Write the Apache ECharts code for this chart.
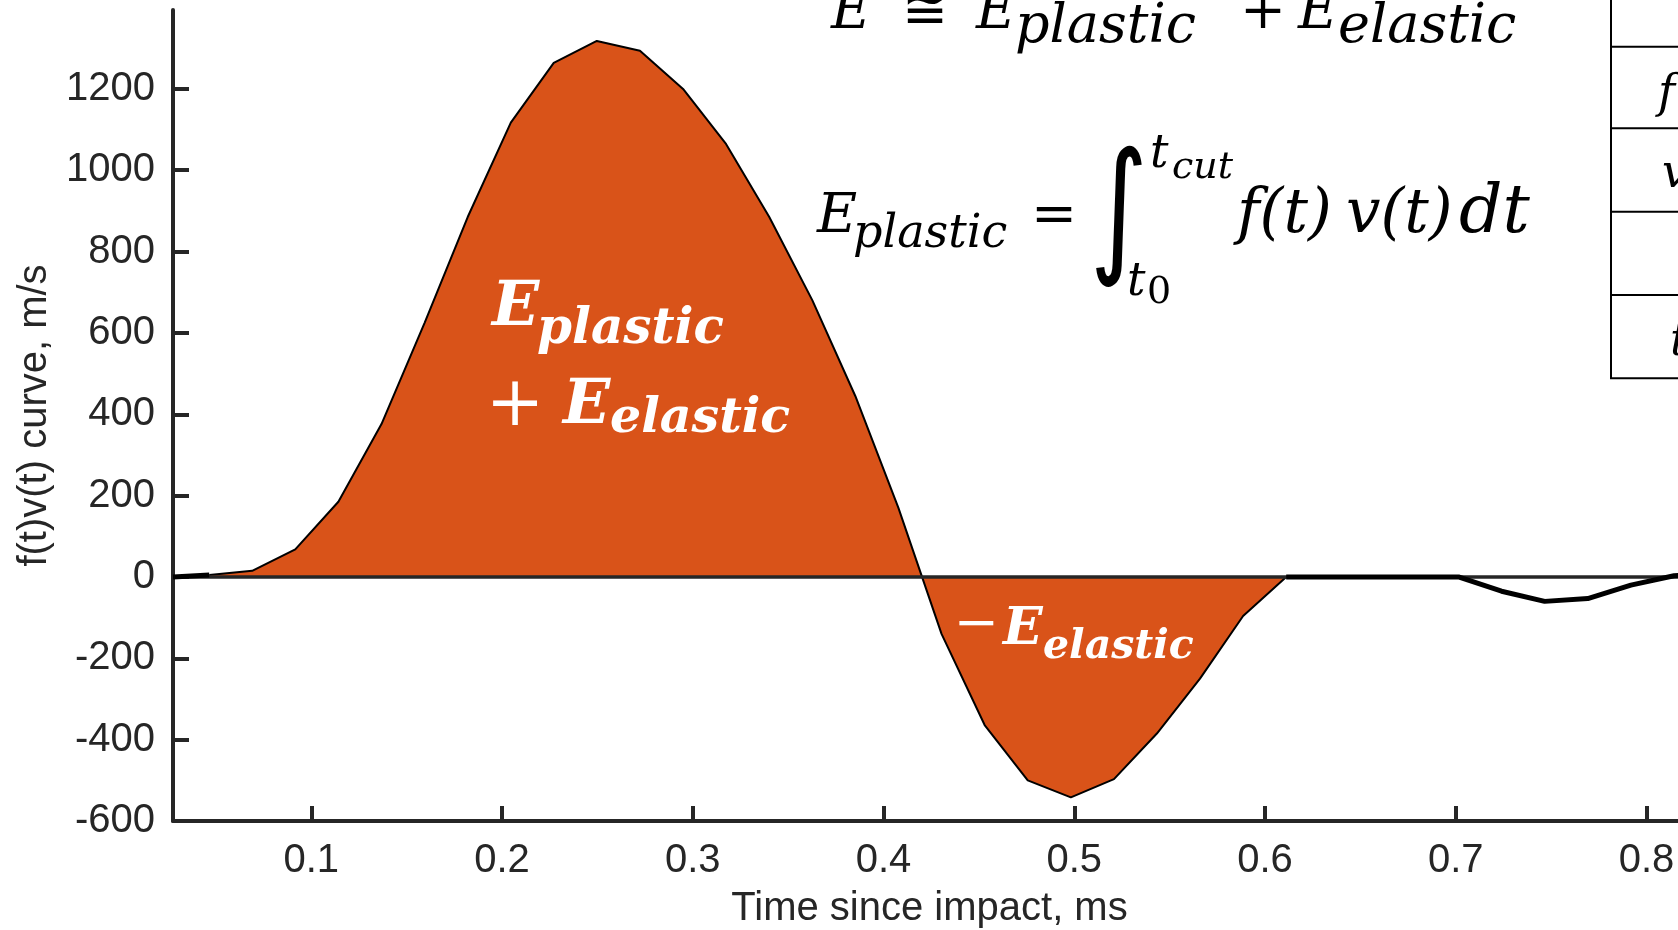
<!DOCTYPE html>
<html>
<head>
<meta charset="utf-8">
<script src="https://cdn.jsdelivr.net/npm/echarts@6/dist/echarts.min.js"></script>
<style>
  html, body { margin: 0; padding: 0; background: #ffffff; }
  #chart { width: 1678px; height: 930px; }
</style>
</head>
<body>
<div id="chart"></div>
<script>
// f(t)v(t) power curve against time since impact (ms)
const timeMs = [0.0275, 0.0465, 0.0690, 0.0916, 0.1142, 0.1368, 0.1594, 0.1820, 0.2046, 0.2271,
                0.2497, 0.2723, 0.2949, 0.3175, 0.3401, 0.3627, 0.3852, 0.4078, 0.4304, 0.4530,
                0.4756, 0.4982, 0.5208, 0.5433, 0.5659, 0.5885, 0.6111, 0.6337, 0.6563, 0.6789,
                0.7014, 0.7240, 0.7466, 0.7692, 0.7918, 0.8144, 0.8370];
const fvCurve = [0, 5, 15, 68, 185, 376, 625, 885, 1117, 1264,
                 1318, 1294, 1200, 1064, 885, 680, 445, 170, -140, -364,
                 -500, -542, -497, -385, -250, -96, 0, 0, 0, 0,
                 0, -35, -60, -53, -20, 3, 8];

// integration limits t0 and t_cut
const tStart = 0.0465;
const tCut = 0.6111;

// axis ticks and ranges
const xTicks = [0.1, 0.2, 0.3, 0.4, 0.5, 0.6, 0.7, 0.8];
const yTicks = [-600, -400, -200, 0, 200, 400, 600, 800, 1000, 1200];
const xRange = [0.0275, 0.8165];
const yRange = [-600, 1394];

const pts = timeMs.map((t, i) => [t, fvCurve[i]]);
const leftPart = pts.filter(p => p[0] <= tStart);
const rightPart = pts.filter(p => p[0] >= tCut);
const integrated = pts.filter(p => p[0] >= tStart && p[0] <= tCut);

const AX = '#262626';
const ORANGE = '#D95319';
const SERIF = '"DejaVu Serif", "Liberation Serif", serif';
const SANS = '"Liberation Sans", Arial, Helvetica, sans-serif';

// text placed by its baseline
function txt(str, x, baseline, size, o) {
  o = o || {};
  return {
    type: 'text',
    x: x,
    y: baseline - 0.35 * size,
    z: 100,
    style: {
      text: str,
      fill: o.color || '#000000',
      fontFamily: o.family || SERIF,
      fontSize: size,
      fontStyle: o.style || 'italic',
      fontWeight: o.weight || 'normal',
      align: o.align || 'left',
      verticalAlign: 'middle'
    }
  };
}
function hline(x1, x2, y) {
  return { type: 'line', z: 100, shape: { x1: x1, y1: y, x2: x2, y2: y }, style: { stroke: '#000', lineWidth: 2 } };
}
function vline(x, y1, y2) {
  return { type: 'line', z: 100, shape: { x1: x, y1: y1, x2: x, y2: y2 }, style: { stroke: '#000', lineWidth: 2 } };
}

const W = '#ffffff';
const graphics = [
  // E ≅ E_plastic + E_elastic
  txt('E', 831, 33, 55),
  txt('≅', 925, 33, 55, { style: 'normal', align: 'center' }),
  txt('E', 976, 33, 55),
  txt('plastic', 1015, 47, 54),
  txt('+', 1263, 33, 55, { style: 'normal', align: 'center' }),
  txt('E', 1298, 33, 55),
  txt('elastic', 1338, 47, 54),

  // E_plastic = integral from t0 to t_cut of f(t)v(t)dt
  txt('E', 817, 237, 55),
  txt('plastic', 853, 251, 46),
  txt('=', 1054, 237, 55, { style: 'normal', align: 'center' }),
  {
    type: 'text', x: 1119, y: 218, scaleY: 1.3, z: 100,
    style: {
      text: '∫', fill: '#000', fontFamily: '"DejaVu Sans", sans-serif', fontSize: 112,
      fontStyle: 'italic', align: 'center', verticalAlign: 'middle'
    }
  },
  txt('t', 1150, 171, 46),
  txt('cut', 1172, 181, 38),
  txt('t', 1127, 299, 46),
  txt('0', 1147, 306, 38, { style: 'normal' }),
  txt('f(t)', 1237, 238, 61),
  txt('v(t)', 1346, 238, 61),
  txt('dt', 1459, 238, 68),

  // table at right
  vline(1611, 0, 379),
  hline(1610, 1678, 46.7),
  hline(1610, 1678, 128.3),
  hline(1610, 1678, 211.7),
  hline(1610, 1678, 295),
  hline(1610, 1678, 378.3),
  txt('f', 1658, 111, 46),
  txt('v', 1662, 191, 46),
  txt('t', 1670, 359, 46),

  // area labels
  txt('E', 492, 331, 62, { color: W, weight: 'bold' }),
  txt('plastic', 537, 348, 50, { color: W, weight: 'bold' }),
  txt('+', 515, 431, 70, { color: W, style: 'normal', align: 'center' }),
  txt('E', 563, 429, 62, { color: W, weight: 'bold' }),
  txt('elastic', 610, 436, 49, { color: W, weight: 'bold' }),
  txt('−', 976, 645, 54, { color: W, style: 'normal', align: 'center' }),
  txt('E', 1003, 649, 52, { color: W, weight: 'bold' }),
  txt('elastic', 1043, 662, 41, { color: W, weight: 'bold' })
];

const chart = echarts.init(document.getElementById('chart'), null, { renderer: 'canvas' });
chart.setOption({
  animation: false,
  backgroundColor: '#ffffff',
  grid: { left: 173, top: 10, right: 0, height: 811, containLabel: false, outerBoundsMode: 'none' },
  xAxis: {
    type: 'value',
    min: xRange[0],
    max: xRange[1],
    name: 'Time since impact, ms',
    nameLocation: 'middle',
    nameGap: 68,
    nameTextStyle: { color: AX, fontSize: 40, fontFamily: SANS, padding: [0, 0, 0, 8] },
    axisLine: { onZero: false, lineStyle: { color: AX, width: 4 } },
    axisTick: { inside: true, length: 15, customValues: xTicks, lineStyle: { color: AX, width: 4 } },
    axisLabel: { customValues: xTicks, margin: 20, color: AX, fontSize: 40, fontFamily: SANS },
    splitLine: { show: false }
  },
  yAxis: {
    type: 'value',
    min: yRange[0],
    max: yRange[1],
    name: 'f(t)v(t) curve, m/s',
    nameLocation: 'middle',
    nameGap: 113,
    nameTextStyle: { color: AX, fontSize: 40, fontFamily: SANS },
    axisLine: { onZero: false, lineStyle: { color: AX, width: 4 } },
    axisTick: { inside: true, length: 16, customValues: yTicks, lineStyle: { color: AX, width: 4 } },
    axisLabel: {
      customValues: yTicks, margin: 18, color: AX, fontSize: 40, fontFamily: SANS,
      formatter: v => String(v)
    },
    splitLine: { show: false }
  },
  series: [
    {
      name: 'integrated',
      type: 'line',
      data: integrated,
      symbol: 'none',
      z: 2,
      lineStyle: { color: '#000000', width: 2 },
      areaStyle: { color: ORANGE, opacity: 1 }
    },
    {
      name: 'zero',
      type: 'line',
      data: [[xRange[0], 0], [xRange[1], 0]],
      symbol: 'none',
      z: 3,
      lineStyle: { color: AX, width: 3.5 }
    },
    {
      name: 'before t0',
      type: 'line',
      data: leftPart,
      symbol: 'none',
      z: 4,
      lineStyle: { color: '#000000', width: 5 }
    },
    {
      name: 'after tcut',
      type: 'line',
      data: rightPart,
      symbol: 'none',
      z: 4,
      lineStyle: { color: '#000000', width: 5 }
    }
  ],
  graphic: graphics
});
</script>
</body>
</html>
